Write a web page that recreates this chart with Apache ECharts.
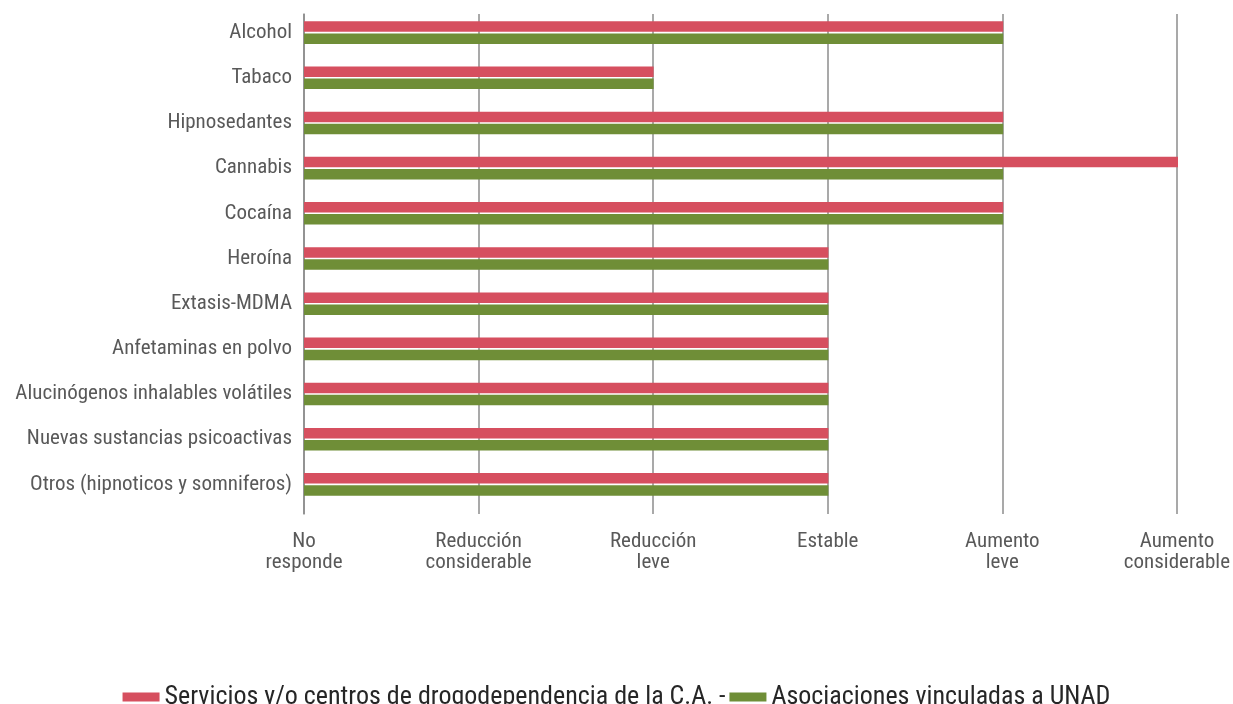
<!DOCTYPE html>
<html>
<head>
<meta charset="utf-8">
<script src="https://cdn.jsdelivr.net/npm/echarts@6/dist/echarts.min.js"></script>
<style>
  html, body { margin: 0; padding: 0; background: #fff; }
  #chart { width: 1233px; height: 704px; }
</style>
</head>
<body>
<div id="chart"></div>
<script>
// categorías (de arriba a abajo)
const categories = [
  'Alcohol', 'Tabaco', 'Hipnosedantes', 'Cannabis', 'Cocaína', 'Heroína',
  'Extasis-MDMA', 'Anfetaminas en polvo', 'Alucinógenos inhalables volátiles',
  'Nuevas sustancias psicoactivas', 'Otros (hipnoticos y somniferos)'
]
// 0 = No responde ... 5 = Aumento considerable
const serviciosValues = [4, 2, 4, 5, 4, 3, 3, 3, 3, 3, 3]
const asociacionesValues = [4, 2, 4, 4, 4, 3, 3, 3, 3, 3, 3]
const tickLabels = [
  'No\nresponde', 'Reducción\nconsiderable', 'Reducción\nleve',
  'Estable', 'Aumento\nleve', 'Aumento\nconsiderable'
]
const seriesNames = [
  'Servicios y/o centros de drogodependencia de la C.A. -',
  'Asociaciones vinculadas a UNAD'
]

const font = '"Roboto Condensed", "Liberation Sans Narrow", "DejaVu Sans Condensed", Roboto, sans-serif'
const gridColor = '#8c8c8c'
const chart = echarts.init(document.getElementById('chart'))

const option = {
  animation: false,
  textStyle: { fontFamily: font },
  grid: [
    // barras
    { left: 304, right: 55, top: 10, height: 497 },
    // líneas de la cuadrícula (un poco más largas, como en el original)
    { left: 304, right: 55, top: 14, height: 500 }
  ],
  legend: {
    top: 679,
    left: 'center',
    itemWidth: 37,
    itemHeight: 9,
    itemGap: 4,
    icon: 'rect',
    textStyle: { fontFamily: font, fontSize: 26, color: '#262626', lineHeight: 26 },
    data: seriesNames
  },
  xAxis: [
    {
      type: 'value',
      gridIndex: 0,
      min: 0,
      max: 5,
      interval: 1,
      axisLine: { show: false },
      axisTick: { show: false },
      splitLine: { show: false },
      axisLabel: { show: false }
    },
    {
      type: 'value',
      gridIndex: 1,
      min: 0,
      max: 5,
      interval: 1,
      axisLine: { show: false },
      axisTick: { show: false },
      splitLine: { lineStyle: { color: gridColor, width: 1.5 } },
      axisLabel: {
        margin: 17,
        fontFamily: font,
        fontSize: 21,
        lineHeight: 21,
        color: '#595959',
        formatter: v => tickLabels[v]
      }
    }
  ],
  yAxis: [
    {
      type: 'category',
      gridIndex: 0,
      inverse: true,
      data: categories,
      axisLine: { show: false },
      axisTick: { show: false },
      axisLabel: {
        margin: 12,
        fontFamily: font,
        fontSize: 21,
        color: '#595959'
      }
    },
    {
      type: 'category',
      gridIndex: 1,
      inverse: true,
      data: categories,
      axisLine: { show: true, lineStyle: { color: gridColor, width: 1.5 } },
      axisTick: { show: false },
      axisLabel: { show: false }
    }
  ],
  series: [
    {
      name: seriesNames[0],
      type: 'bar',
      xAxisIndex: 0,
      yAxisIndex: 0,
      data: serviciosValues,
      barWidth: 10.5,
      barGap: '15%',
      itemStyle: { color: '#d64f5f' }
    },
    {
      name: seriesNames[1],
      type: 'bar',
      xAxisIndex: 0,
      yAxisIndex: 0,
      data: asociacionesValues,
      barWidth: 10.5,
      barGap: '15%',
      itemStyle: { color: '#6f8e37' }
    }
  ]
}
chart.setOption(option)
</script>
</body>
</html>
